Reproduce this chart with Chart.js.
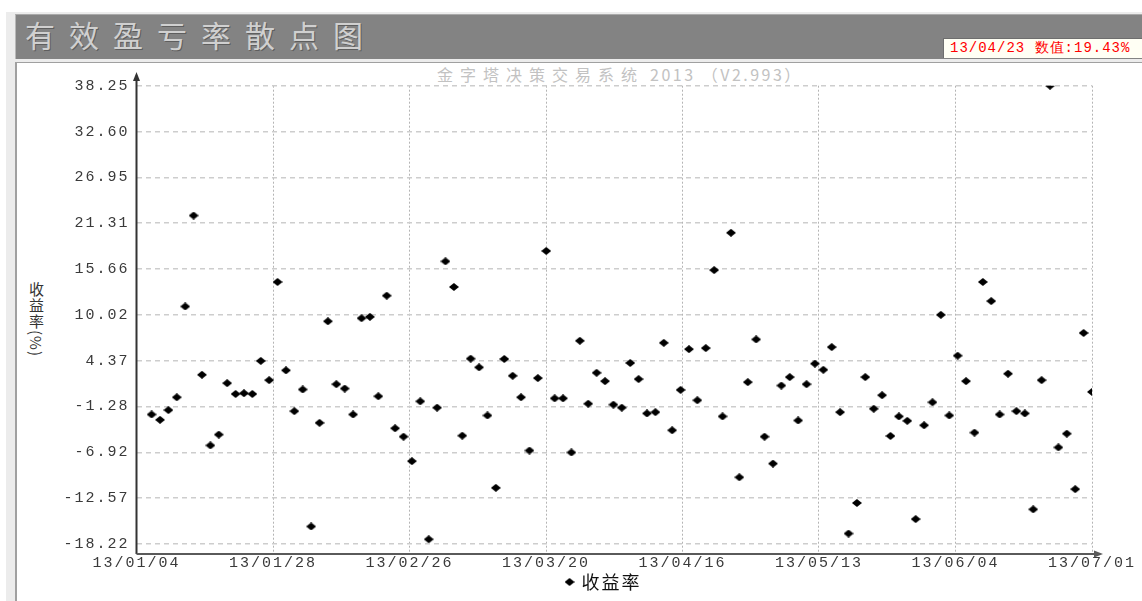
<!DOCTYPE html>
<html>
<head>
<meta charset="utf-8">
<title>有效盈亏率散点图</title>
<script src="https://cdn.jsdelivr.net/npm/chart.js@4.4.0/dist/chart.umd.min.js"></script>
<style>
	html, body { margin: 0; padding: 0; }
	body {
		position: relative;
		width: 1142px;
		height: 601px;
		overflow: hidden;
		background: #fff;
		font-family: "Noto Sans CJK SC", sans-serif;
	}
	#frame { position: absolute; left: 6px; top: 12px; width: 1136px; height: 589px; background: #ececec; }
	#header {
		position: absolute; left: 15px; top: 14px; width: 1127px; height: 45px;
		background: #838383; border-top: 1px solid #a9a9a9; border-left: 1px solid #b8b8b8; box-sizing: border-box;
	}
	#title {
		position: absolute; left: 9px; top: -2px; line-height: 42px;
		font-size: 30px; letter-spacing: 14px; color: #d0d0d0; text-shadow: 1px 1px 0 #5e5e5e;
	}
	#readout {
		position: absolute; left: 943px; top: 38px; width: 210px; height: 20px; box-sizing: border-box;
		background: #fffff4; border-top: 1px solid #6e6e6e; border-left: 1px solid #6e6e6e;
		font-family: "Liberation Mono", monospace; font-size: 14px; letter-spacing: 1px; line-height: 19px;
		color: #ff0000; padding-left: 6px; white-space: nowrap;
	}
	#panel {
		position: absolute; left: 15px; top: 62px; width: 1127px; height: 539px; box-sizing: border-box;
		background: #fff; border-top: 1px solid #a0a0a0; border-left: 2px solid #a0a0a0;
	}
	#subtitle {
		position: absolute; left: 437px; top: 64px; line-height: 20px; white-space: nowrap;
		font-size: 16px; color: #c2c2c2; letter-spacing: 2.5px;
	}
	#subtitle .cn { letter-spacing: 7px; }
	#ytitle {
		position: absolute; left: 26px; top: 282px;
		writing-mode: vertical-rl; font-size: 15px; color: #333; letter-spacing: 1px;
	}
	#chart-scatter { position: absolute; left: 17px; top: 63px; }
</style>
</head>
<body>
<div id="frame"></div>
<div id="header"><span id="title">有效盈亏率散点图</span></div>
<div id="readout">13/04/23 数值:19.43%</div>
<div id="panel"></div>
<div id="subtitle"><span class="cn">金字塔决策交易系统</span> 2013 （V2.993）</div>
<div id="ytitle">收益率(%)</div>
<canvas id="chart-scatter" width="1125" height="538"></canvas>

<script>
// Chart data
const SERIES_LABEL = "收益率";

// return of each trade, in order (%)
const TRADE_RETURNS = [
	-2.26, -2.92, -1.72, -0.14, 11.05, 22.25, 2.63, -6.07, -4.74, 1.6,
	0.27, 0.36, 0.27, 4.34, 1.97, 14.07, 3.18, -1.85, 0.82, -16.06,
	-3.29, 9.22, 1.47, 0.94, -2.26, 9.6, 9.77, -0.02, 12.38, -3.96,
	-4.99, -8.01, -0.64, -17.64, -1.42, 16.61, 13.45, -4.87, 4.62, 3.55,
	-2.38, -11.3, 4.58, 2.51, -0.14, -6.7, 2.22, 17.89, -0.27, -0.27,
	-6.94, 6.82, -0.93, 2.88, 1.85, -1.05, -1.42, 4.09, 2.1, -2.13,
	-1.97, 6.57, -4.21, 0.77, 5.79, -0.51, 5.92, 15.53, -2.5, 20.13,
	-10.0, 1.72, 6.99, -4.99, -8.31, 1.31, 2.35, -3.0, 1.47, 4.0,
	3.25, 6.04, -1.97, -16.93, -13.16, 2.35, -1.55, 0.11, -4.91, -2.5,
	-3.04, -15.15, -3.59, -0.76, 10.02, -2.38, 4.99, 1.85, -4.49, 14.07,
	11.71, -2.26, 2.76, -1.85, -2.13, -13.95, 1.97, 38.25, -6.32, -4.62,
	-11.46, 7.78, 0.52,
];

const DATE_LABELS = ["13/01/04", "13/01/28", "13/02/26", "13/03/20", "13/04/16", "13/05/13", "13/06/04", "13/07/01"];
const Y_TICKS = [-18.22, -12.57, -6.92, -1.28, 4.37, 10.02, 15.66, 21.31, 26.95, 32.6, 38.25];

const X_MIN = -1.8;
const X_MAX = TRADE_RETURNS.length - 1;
const Y_MIN = -19.45;
const Y_MAX = 38.25;

// black diamond marker
const makeDiamond = () => {
	const c = document.createElement("canvas");
	c.width = 10;
	c.height = 8;
	const g = c.getContext("2d");
	g.fillStyle = "#000";
	g.beginPath();
	g.moveTo(5, 0);
	g.lineTo(10, 4);
	g.lineTo(5, 8);
	g.lineTo(0, 4);
	g.closePath();
	g.fill();
	return c;
};
const DIAMOND = makeDiamond();

// wide bitmap-like text
const letterSpacing = {
	id: "letterSpacing",
	beforeDraw(chart) {
		chart.ctx.letterSpacing = "2px";
	},
};

// axis lines with arrow heads
const axisArrows = {
	id: "axisArrows",
	afterDatasetsDraw(chart) {
		const { ctx, chartArea } = chart;
		const { left, right, bottom } = chartArea;
		ctx.save();
		ctx.lineWidth = 2;

		ctx.strokeStyle = "#333";
		ctx.fillStyle = "#333";
		ctx.beginPath();
		ctx.moveTo(left, bottom);
		ctx.lineTo(left, 14);
		ctx.stroke();
		ctx.beginPath();
		ctx.moveTo(left, 9);
		ctx.lineTo(left - 3.5, 18);
		ctx.lineTo(left + 3.5, 18);
		ctx.closePath();
		ctx.fill();

		ctx.strokeStyle = "#5a5a5a";
		ctx.fillStyle = "#5a5a5a";
		ctx.beginPath();
		ctx.moveTo(left, bottom);
		ctx.lineTo(right + 6, bottom);
		ctx.stroke();
		ctx.beginPath();
		ctx.moveTo(right + 11, bottom);
		ctx.lineTo(right + 2, bottom - 3.5);
		ctx.lineTo(right + 2, bottom + 3.5);
		ctx.closePath();
		ctx.fill();
		ctx.restore();
	},
};

const TICK_FONT = { family: "'Liberation Mono', monospace", size: 15 };

const CHART_CONFIG = {
	type: "scatter",
	data: {
		datasets: [
			{
				label: SERIES_LABEL,
				data: TRADE_RETURNS.map((v, i) => ({ x: i, y: v })),
				pointStyle: DIAMOND,
				backgroundColor: "#000",
				borderColor: "#000",
			},
		],
	},
	options: {
		responsive: false,
		animation: false,
		devicePixelRatio: 1,
		layout: {
			padding: { left: 93, right: 50, top: 22.7, bottom: 0 },
		},
		scales: {
			x: {
				type: "linear",
				min: X_MIN,
				max: X_MAX,
				border: { display: false, dash: [2, 2] },
				grid: { color: "#b4b4b4", lineWidth: 1, drawTicks: false },
				afterBuildTicks: (scale) => {
					const step = (X_MAX - X_MIN) / (DATE_LABELS.length - 1);
					scale.ticks = DATE_LABELS.map((_, k) => ({ value: X_MIN + k * step }));
				},
				afterFit: (scale) => {
					scale.height = 14;
				},
				ticks: {
					autoSkip: false,
					maxRotation: 0,
					padding: 0,
					color: "#3a3a3a",
					font: TICK_FONT,
					callback: (value, index) => DATE_LABELS[index],
				},
			},
			y: {
				min: Y_MIN,
				max: Y_MAX,
				border: { display: false, dash: [5, 4] },
				grid: { color: "#cdcdcd", lineWidth: 1.5, drawTicks: false },
				afterBuildTicks: (scale) => {
					scale.ticks = Y_TICKS.map((v) => ({ value: v }));
				},
				afterFit: (scale) => {
					scale.width = 26.5;
				},
				ticks: {
					// labels padded to one width, placed left of the axis
					mirror: true,
					padding: -73,
					color: "#3a3a3a",
					font: TICK_FONT,
					callback: (value) => value.toFixed(2).padStart(6, " "),
				},
			},
		},
		plugins: {
			legend: {
				position: "bottom",
				labels: {
					usePointStyle: true,
					pointStyleWidth: 6,
					padding: 5,
					color: "#111",
					font: { family: "'Noto Sans CJK SC', sans-serif", size: 18 },
				},
			},
			tooltip: { enabled: false },
		},
	},
	plugins: [letterSpacing, axisArrows],
};

const CHART_WRAPPER = document.getElementById("chart-scatter");
if (CHART_WRAPPER) {
	new Chart(CHART_WRAPPER, CHART_CONFIG);
}
</script>
</body>
</html>
